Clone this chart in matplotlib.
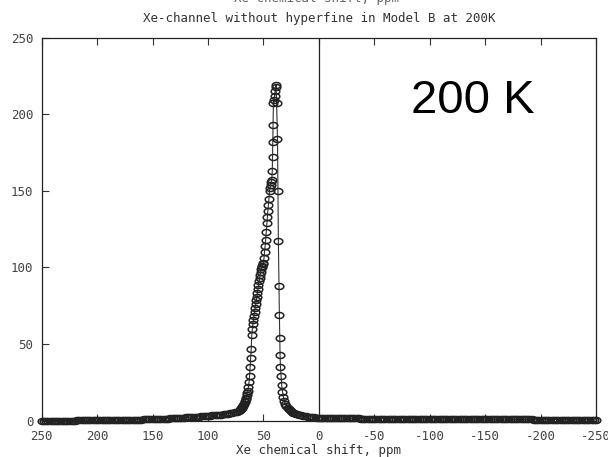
import numpy as np
import matplotlib
matplotlib.use("Agg")
import matplotlib.pyplot as plt
from matplotlib.path import Path
from matplotlib.markers import MarkerStyle

# ---------------- data: (ppm, intensity) ----------------
tail_left = [
    (250, 0.1), (248, 0.1), (246, 0.1), (244, 0.1), (242, 0.1), (240, 0.1), (238, 0.1), (236, 0.1),
    (234, 0.1), (232, 0.1), (230, 0.1), (228, 0.1), (226, 0.1), (224, 0.1), (222, 0.1), (220, 0.1),
    (218, 0.2), (216, 0.2), (214, 0.2), (212, 0.2), (210, 0.2), (208, 0.2), (206, 0.2), (204, 0.2),
    (202, 0.2), (200, 0.2), (198, 0.2), (196, 0.2), (194, 0.3), (192, 0.3), (190, 0.3), (188, 0.3),
    (186, 0.3), (184, 0.3), (182, 0.4), (180, 0.4), (178, 0.4), (176, 0.4), (174, 0.5), (172, 0.5),
    (170, 0.5), (168, 0.6), (166, 0.6), (164, 0.6), (162, 0.7), (160, 0.7), (158, 0.8), (156, 0.8),
    (154, 0.9), (152, 0.9), (150, 1.0), (148, 1.0), (146, 1.1), (144, 1.1), (142, 1.2), (140, 1.3),
    (138, 1.3), (136, 1.4), (134, 1.5), (132, 1.5), (130, 1.6), (128, 1.7), (126, 1.8), (124, 1.9),
    (122, 2.0), (120, 2.1), (118, 2.2), (116, 2.3), (114, 2.4), (112, 2.5), (110, 2.6), (108, 2.7),
    (106, 2.8), (104, 2.9), (102, 3.0), (100, 3.1), (98, 3.2), (96, 3.4), (94, 3.5), (92, 3.7),
    (90, 3.8), (88, 4.0), (86, 4.2), (84, 4.4), (82, 4.6), (80, 4.9), (78, 5.2), (76, 5.6), (74, 6.0),
]
branch_left = [
    (72, 6.5), (71.5, 7.0), (71, 7.3), (70.5, 7.7), (70, 8.0), (69.5, 8.5), (69, 9.0), (68.5, 9.6),
    (68, 10.2), (67.5, 11), (67, 12), (66.5, 13), (66, 14), (65.5, 15), (65, 16.5), (64.5, 18),
    (64, 19.5), (63.5, 22), (63, 25), (62.5, 29), (62, 35), (61.5, 41), (61, 47), (60.5, 56),
    (60, 60), (59.5, 63), (59, 66), (58.5, 68.5), (58, 71), (57.5, 73.5), (57, 76), (56.5, 78.5),
    (56, 81), (55.5, 83.5), (55, 86), (54.5, 88.5), (54, 91), (53.5, 93), (53, 95), (52.5, 97),
    (52, 99), (51.5, 100), (51, 101), (50.5, 102), (50, 103), (49.5, 106), (49, 110), (48.5, 114),
    (48, 118), (47.5, 123), (47, 129), (46.5, 133), (46, 137), (45.5, 141), (45, 145), (44.5, 150),
    (44, 152), (43.5, 154), (43, 155.5), (42.5, 157), (42, 163), (41.8, 172), (41.6, 182),
    (41.4, 193), (41.0, 207), (40.5, 209), (40.0, 212), (39.5, 215), (39.0, 217.5), (38.6, 219),
]
branch_right = [
    (38.1, 207), (37.3, 184), (36.9, 150), (36.5, 117), (36.0, 88), (35.6, 69), (35.3, 54),
    (35.0, 43), (34.6, 35), (34.1, 29), (33.5, 23), (32.8, 19), (32.0, 15.6), (31.2, 13),
    (30.2, 11), (29.2, 9.5), (28.2, 8.4), (27.0, 7.5), (26.0, 7.0), (25.0, 6.3), (24.0, 5.8),
    (23.0, 5.3), (22.0, 4.9), (21.0, 4.5),
]
tail_right = [
    (20, 4.1), (18, 3.7), (16, 3.4), (14, 3.1), (12, 2.9), (10, 2.7), (8, 2.6), (6, 2.4),
    (4, 2.2), (2, 2.0), (0, 1.9), (-2, 1.8), (-4, 1.8), (-6, 1.8), (-8, 1.7), (-10, 1.7),
    (-12, 1.7), (-14, 1.7), (-16, 1.6), (-18, 1.6), (-20, 1.6), (-22, 1.6), (-24, 1.6), (-26, 1.5),
    (-28, 1.5), (-30, 1.5), (-32, 1.5), (-34, 1.5), (-36, 1.5), (-38, 1.4), (-40, 1.4), (-42, 1.4),
    (-44, 1.4), (-46, 1.4), (-48, 1.4), (-50, 1.4), (-52, 1.4), (-54, 1.4), (-56, 1.3), (-58, 1.3),
    (-60, 1.3), (-62, 1.3), (-64, 1.3), (-66, 1.3), (-68, 1.3), (-70, 1.3), (-72, 1.3), (-74, 1.2),
    (-76, 1.2), (-78, 1.2), (-80, 1.2), (-82, 1.2), (-84, 1.2), (-86, 1.2), (-88, 1.2), (-90, 1.2),
    (-92, 1.2), (-94, 1.1), (-96, 1.1), (-98, 1.1), (-100, 1.1), (-102, 1.1), (-104, 1.1),
    (-106, 1.1), (-108, 1.1), (-110, 1.1), (-112, 1.1), (-114, 1.1), (-116, 1.0), (-118, 1.0),
    (-120, 1.0), (-122, 1.0), (-124, 1.0), (-126, 1.0), (-128, 1.0), (-130, 1.0), (-132, 1.0),
    (-134, 1.0), (-136, 1.0), (-138, 1.0), (-140, 1.0), (-142, 1.0), (-144, 0.9), (-146, 0.9),
    (-148, 0.9), (-150, 0.9), (-152, 0.9), (-154, 0.9), (-156, 0.9), (-158, 0.9), (-160, 0.9),
    (-162, 0.9), (-164, 0.9), (-166, 0.9), (-168, 0.9), (-170, 0.8), (-172, 0.8), (-174, 0.8),
    (-176, 0.8), (-178, 0.8), (-180, 0.8), (-182, 0.8), (-184, 0.8), (-186, 0.8), (-188, 0.8),
    (-190, 0.8), (-192, 0.8), (-194, 0.7), (-196, 0.7), (-198, 0.7), (-200, 0.7), (-202, 0.7),
    (-204, 0.7), (-206, 0.7), (-208, 0.7), (-210, 0.7), (-212, 0.7), (-214, 0.7), (-216, 0.7),
    (-218, 0.7), (-220, 0.6), (-222, 0.6), (-224, 0.6), (-226, 0.6), (-228, 0.6), (-230, 0.6),
    (-232, 0.6), (-234, 0.6), (-236, 0.6), (-238, 0.6), (-240, 0.6), (-242, 0.5), (-244, 0.5),
    (-246, 0.5), (-248, 0.5), (-250, 0.5),
]

x_ticks = [250, 200, 150, 100, 50, 0, -50, -100, -150, -200, -250]
x_tick_labels = ["250", "200", "150", "100", "50", "0", "-50", "-100", "-150", "-200", "-250"]
y_ticks = [0, 50, 100, 150, 200, 250]
y_tick_labels = ["0", "50", "100", "150", "200", "250"]

title = "Xe-channel without hyperfine in Model B at 200K"
xlabel = "Xe chemical shift, ppm"
annotation = "200 K"

# ---------------- plot ----------------
series = tail_left + branch_left + branch_right + tail_right
ppm = np.array([p[0] for p in series], dtype=float)
inten = np.array([p[1] for p in series], dtype=float)

mono = ["DejaVu Sans Mono"]
W, H = 608, 457
fig = plt.figure(figsize=(W / 100, H / 100), dpi=100)
ax = fig.add_axes([41.7 / W, (H - 420.7) / H, 554.3 / W, 383.1 / H])

# elliptical open marker
t = np.linspace(0, 2 * np.pi, 33)
ell = Path(np.column_stack([np.cos(t), 0.7 * np.sin(t)]), closed=True)
mk = MarkerStyle(ell)

ax.plot(ppm, inten, color="#333333", lw=0.8, marker=mk, markersize=6.2,
        markerfacecolor="none", markeredgecolor="#222222", markeredgewidth=1.1,
        clip_on=False)
ax.axvline(0, color="#222222", lw=0.9)

ax.set_xlim(250, -250)
ax.set_ylim(0, 250)
ax.set_xticks(x_ticks)
ax.set_xticklabels(x_tick_labels)
ax.set_yticks(y_ticks)
ax.set_yticklabels(y_tick_labels)

for s in ax.spines.values():
    s.set_color("#222222")
    s.set_linewidth(0.9)

ax.tick_params(axis="x", which="both", direction="in", top=True, bottom=True,
               length=5, width=0.8, color="#333333", pad=7, labelsize=9,
               labelcolor="#444444")
ax.tick_params(axis="y", which="both", direction="in", left=True, right=False,
               length=5, width=0.8, color="#333333", pad=6, labelsize=9,
               labelcolor="#444444")
for lab in ax.get_xticklabels() + ax.get_yticklabels():
    lab.set_family(mono)

fig.text(318.8 / W, 1 - 450.5 / H, xlabel, ha="center", va="center",
         fontsize=9, family=mono, color="#333333")
fig.text(318.8 / W, 1 - 18.5 / H, title, ha="center", va="center",
         fontsize=9, family=mono, color="#333333")
fig.text(316 / W, 1 + 2 / H, xlabel, ha="center", va="center",
         fontsize=9, family=mono, color="#666666")
fig.text(411 / W, 1 - 113 / H, annotation, ha="left", va="baseline",
         fontsize=34, family=["Liberation Sans", "DejaVu Sans"], color="black")

fig.savefig("out.png", dpi=100)
